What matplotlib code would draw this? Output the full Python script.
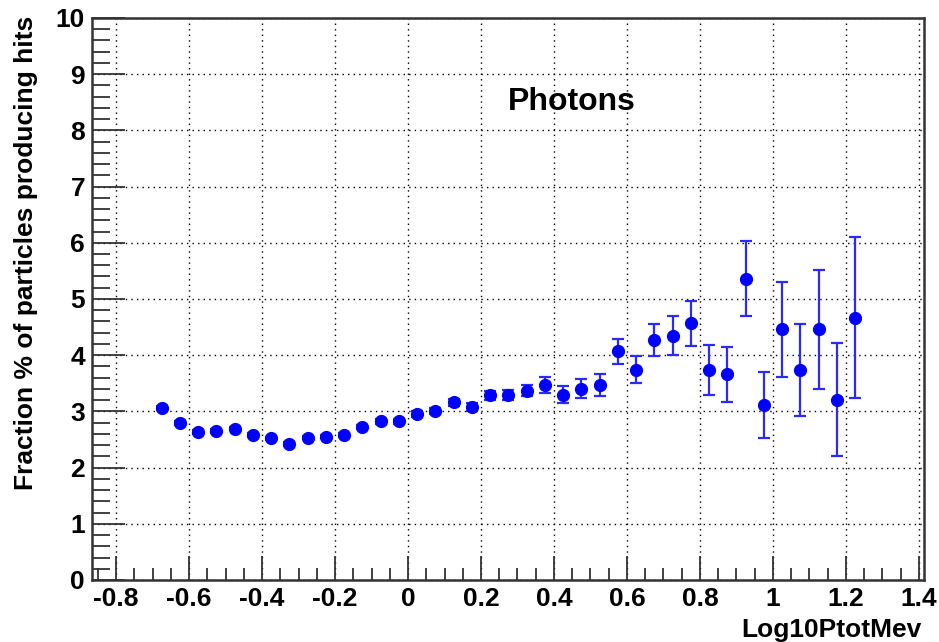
import numpy as np
import matplotlib
matplotlib.use("Agg")
import matplotlib.pyplot as plt
from matplotlib.ticker import MultipleLocator, FuncFormatter

plt.rcParams['font.family'] = ['Liberation Sans', 'DejaVu Sans']
plt.rcParams['font.weight'] = 'bold'

# Bin centres (log10 of total momentum in MeV)
log10_p = [-0.675, -0.625, -0.575, -0.525, -0.475, -0.425, -0.375, -0.325,
           -0.275, -0.225, -0.175, -0.125, -0.075, -0.025, 0.025, 0.075,
           0.125, 0.175, 0.225, 0.275, 0.325, 0.375, 0.425, 0.475, 0.525,
           0.575, 0.625, 0.675, 0.725, 0.775, 0.825, 0.875, 0.925, 0.975,
           1.025, 1.075, 1.125, 1.175, 1.225]

# Fraction (%) of photons producing hits
fraction = [3.06, 2.79, 2.63, 2.65, 2.69, 2.58, 2.52, 2.42,
            2.53, 2.55, 2.58, 2.72, 2.82, 2.82, 2.95, 3.01,
            3.16, 3.08, 3.29, 3.29, 3.37, 3.47, 3.30, 3.40, 3.47,
            4.07, 3.74, 4.27, 4.35, 4.57, 3.74, 3.66, 5.36, 3.11,
            4.46, 3.74, 4.46, 3.21, 4.67]

# Statistical uncertainty on each fraction
fraction_err = [0.03, 0.03, 0.03, 0.03, 0.03, 0.03, 0.03, 0.03,
                0.03, 0.03, 0.04, 0.04, 0.04, 0.04, 0.05, 0.05,
                0.06, 0.07, 0.08, 0.09, 0.10, 0.14, 0.15, 0.17, 0.20,
                0.22, 0.24, 0.29, 0.35, 0.40, 0.44, 0.49, 0.67, 0.59,
                0.85, 0.82, 1.06, 1.00, 1.44]

fig = plt.figure(figsize=(9.39, 6.42), dpi=100)
ax = fig.add_axes([0.098, 0.0966, 0.886, 0.8754])

ax.errorbar(log10_p, fraction, yerr=fraction_err, fmt='o', color='#0000ff',
            ecolor='#2a2aff', elinewidth=1.6, capsize=4, capthick=1.6,
            markersize=8.5, markeredgecolor='#0000ff', zorder=3)

ax.set_xlim(-0.866, 1.414)
ax.set_ylim(0, 10)

ax.xaxis.set_major_locator(MultipleLocator(0.2))
ax.xaxis.set_minor_locator(MultipleLocator(0.05))
ax.yaxis.set_major_locator(MultipleLocator(1))
ax.yaxis.set_minor_locator(MultipleLocator(0.2))

def fmt(v, pos):
    s = f"{v:.1f}".rstrip('0').rstrip('.')
    if s in ('-0', ''):
        s = '0'
    return s

ax.xaxis.set_major_formatter(FuncFormatter(fmt))
ax.yaxis.set_major_formatter(FuncFormatter(fmt))

ax.tick_params(which='both', direction='in', top=False, right=False,
               colors='#333333', labelcolor='black', labelsize=19, width=1.3)
ax.tick_params(axis='x', which='major', length=17, pad=5)
ax.tick_params(axis='x', which='minor', length=9)
ax.tick_params(axis='y', which='major', length=24, pad=5)
ax.tick_params(axis='y', which='minor', length=13)

for lab in ax.get_xticklabels() + ax.get_yticklabels():
    lab.set_fontweight('bold')

ax.grid(True, which='major', linestyle=(0, (1, 3)), color='black', linewidth=1.0)

for side in ('left', 'bottom', 'top', 'right'):
    ax.spines[side].set_color('#333333')
    ax.spines[side].set_linewidth(1.8)

ax.text(0.577, 0.85, 'Photons', transform=ax.transAxes, fontsize=23,
        fontweight='bold', ha='center', va='center')

fig.text(0.981, 0.018, 'Log10PtotMev', ha='right', va='center',
         fontsize=19, fontweight='bold')
fig.text(0.028, 0.975, 'Fraction % of particles producing hits', rotation=90,
         ha='center', va='top', fontsize=19, fontweight='bold')

fig.savefig('out.png', dpi=100)
